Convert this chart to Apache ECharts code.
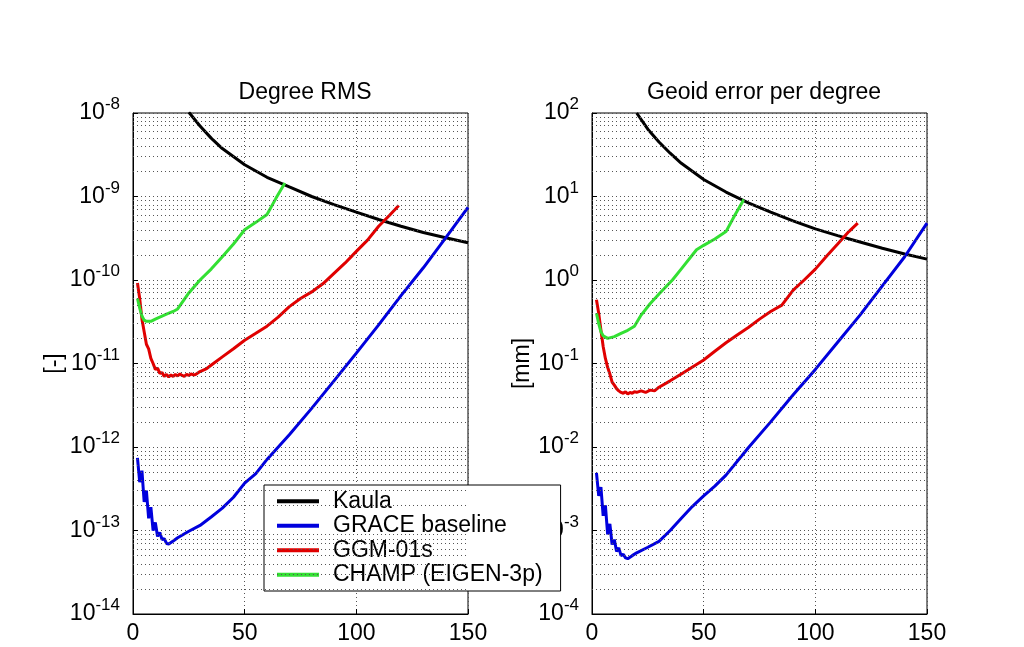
<!DOCTYPE html>
<html>
<head>
<meta charset="utf-8">
<script src="https://cdn.jsdelivr.net/npm/echarts@6/dist/echarts.min.js"></script>
<style>
  html, body { margin: 0; padding: 0; background: #fff; }
  #chart { width: 1024px; height: 647px; }
</style>
</head>
<body>
<div id="chart"></div>
<script>
// ---------- data ----------
const seriesNames = ['Kaula', 'GRACE baseline', 'GGM-01s', 'CHAMP (EIGEN-3p)'];
const xTicks = [0, 50, 100, 150];

// Left panel: Degree RMS [-]
const kaulaDegL = [25, 30, 35, 40, 50, 60, 70, 80, 90, 100, 110, 120, 130, 140, 150];
const kaulaValL = [1.02e-8, 7.0e-9, 5.0e-9, 3.75e-9, 2.4e-9, 1.7e-9, 1.3e-9, 1.0e-9, 8.0e-10, 6.5e-10, 5.3e-10, 4.4e-10, 3.7e-10, 3.2e-10, 2.8e-10];

const graceDegL = [2, 3, 4, 5, 6, 7, 8, 9, 10, 11, 12, 13, 14, 15, 16, 18, 20, 25, 30, 35, 40, 45, 50, 55, 60, 70, 80, 90, 100, 110, 120, 130, 140, 150];
const graceValL = [7.4e-13, 3.8e-13, 5.2e-13, 2.2e-13, 3.0e-13, 1.4e-13, 1.9e-13, 1.0e-13, 1.25e-13, 8.5e-14, 9.5e-14, 7.8e-14, 8.0e-14, 7.0e-14, 6.9e-14, 7.5e-14, 8.2e-14, 9.8e-14, 1.15e-13, 1.45e-13, 1.85e-13, 2.5e-13, 3.7e-13, 4.8e-13, 7.1e-13, 1.4e-12, 2.9e-12, 6.2e-12, 1.33e-11, 2.9e-11, 6.5e-11, 1.4e-10, 3.2e-10, 7.4e-10];

const ggmDegL = [2, 3, 4, 5, 6, 7, 8, 9, 10, 11, 12, 13, 14, 15, 16, 17, 18, 19, 20, 21, 22, 23, 24, 25, 26, 27, 28, 30, 33, 36, 40, 45, 50, 55, 60, 65, 70, 75, 80, 85, 90, 95, 100, 105, 110, 115, 119];
const ggmValL = [9.2e-11, 6.0e-11, 3.4e-11, 2.4e-11, 1.7e-11, 1.5e-11, 1.15e-11, 1.0e-11, 8.5e-12, 8.8e-12, 7.6e-12, 7.8e-12, 7.0e-12, 7.4e-12, 6.9e-12, 7.3e-12, 7.0e-12, 7.4e-12, 7.1e-12, 7.5e-12, 7.2e-12, 7.0e-12, 7.4e-12, 7.2e-12, 7.5e-12, 7.3e-12, 7.4e-12, 8.0e-12, 8.7e-12, 1.0e-11, 1.2e-11, 1.5e-11, 1.9e-11, 2.3e-11, 2.8e-11, 3.6e-11, 4.8e-11, 6.0e-11, 7.2e-11, 9.0e-11, 1.2e-10, 1.6e-10, 2.2e-10, 3.0e-10, 4.4e-10, 6.0e-10, 7.8e-10];

const champDegL = [2, 3, 4, 5, 6, 8, 10, 12, 15, 18, 20, 25, 30, 35, 40, 45, 50, 55, 60, 64, 68];
const champValL = [6.0e-11, 4.6e-11, 3.7e-11, 3.3e-11, 3.2e-11, 3.2e-11, 3.4e-11, 3.6e-11, 3.9e-11, 4.2e-11, 4.5e-11, 7.0e-11, 1.0e-10, 1.35e-10, 1.9e-10, 2.7e-10, 4.0e-10, 4.9e-10, 6.1e-10, 9.5e-10, 1.45e-9];

// Right panel: Geoid error per degree [mm]
const kaulaDegR = [20, 25, 30, 35, 40, 50, 60, 70, 80, 90, 100, 110, 120, 130, 140, 150];
const kaulaValR = [100, 64, 45, 33, 25, 16, 11.3, 8.4, 6.5, 5.1, 4.1, 3.4, 2.85, 2.4, 2.05, 1.78];

const graceDegR = [2, 3, 4, 5, 6, 7, 8, 9, 10, 11, 12, 13, 14, 15, 16, 18, 20, 25, 30, 35, 40, 45, 50, 55, 60, 70, 80, 90, 100, 110, 120, 130, 140, 150];
const graceValR = [4.9e-3, 2.6e-3, 3.3e-3, 1.5e-3, 2.0e-3, 9.0e-4, 1.2e-3, 6.8e-4, 7.8e-4, 5.6e-4, 6.2e-4, 5.0e-4, 5.2e-4, 4.7e-4, 4.6e-4, 5.0e-4, 5.4e-4, 6.3e-4, 7.4e-4, 1.0e-3, 1.4e-3, 1.95e-3, 2.6e-3, 3.4e-3, 4.6e-3, 9.8e-3, 0.020, 0.042, 0.085, 0.18, 0.38, 0.85, 1.9, 4.8];

const ggmDegR = [2, 3, 4, 5, 6, 7, 8, 9, 10, 11, 12, 13, 14, 15, 16, 17, 18, 19, 20, 22, 24, 26, 28, 30, 35, 40, 45, 50, 55, 60, 65, 70, 75, 80, 85, 90, 95, 100, 105, 110, 115, 119];
const ggmValR = [0.58, 0.40, 0.25, 0.16, 0.115, 0.09, 0.075, 0.06, 0.055, 0.05, 0.047, 0.045, 0.044, 0.046, 0.043, 0.045, 0.044, 0.046, 0.045, 0.047, 0.045, 0.048, 0.047, 0.052, 0.062, 0.075, 0.091, 0.11, 0.14, 0.177, 0.22, 0.27, 0.34, 0.42, 0.5, 0.75, 1.0, 1.35, 1.93, 2.7, 3.8, 4.8];

const champDegR = [2, 3, 4, 5, 7, 10, 13, 16, 19, 22, 26, 30, 36, 40, 46.8, 50, 55, 60, 64, 68];
const champValR = [0.40, 0.30, 0.24, 0.215, 0.20, 0.21, 0.23, 0.25, 0.28, 0.38, 0.52, 0.68, 1.0, 1.36, 2.3, 2.6, 3.1, 3.8, 6.0, 9.2];

// axis ranges (decade exponents)
const leftExp = [-14, -8];
const rightExp = [-4, 2];

// ---------- styling ----------
const FONT = '"Liberation Sans", Arial, Helvetica, sans-serif';
const colors = { 'Kaula': '#000000', 'GRACE baseline': '#0000dd', 'GGM-01s': '#e00000', 'CHAMP (EIGEN-3p)': '#33e033' };
const GRID_LINE = { type: [1, 3], color: '#555', width: 1 };

function pairs(xs, ys) { return xs.map((x, i) => [x, ys[i]]); }

// minor grid lines at log10(m * 10^k), m = 2..9, on a hidden linear exponent axis
function minorLines(minExp, maxExp) {
  const out = [];
  for (let k = minExp; k < maxExp; k++) {
    for (let m = 2; m <= 9; m++) out.push({ yAxis: k + Math.log10(m) });
  }
  return out;
}

function expLabel(v) {
  const e = Math.round(Math.log10(v));
  return '{b|10}{e|' + e + '}';
}

function makeX(gi) {
  return {
    gridIndex: gi, type: 'value', min: 0, max: 150, interval: 50,
    axisLine: { onZero: false, lineStyle: { color: '#000', width: 1 } },
    axisTick: { inside: true, length: 5, lineStyle: { color: '#000' } },
    axisLabel: { fontSize: 23, color: '#000', fontFamily: FONT, margin: 8 },
    splitLine: { show: true, lineStyle: GRID_LINE }
  };
}
function makeY(gi, exps, name, gap) {
  return {
    gridIndex: gi, type: 'log', logBase: 10,
    min: Math.pow(10, exps[0]), max: Math.pow(10, exps[1]), splitNumber: 6,
    name: name, nameLocation: 'middle', nameGap: gap,
    nameTextStyle: { fontSize: 23, color: '#000', fontFamily: FONT },
    axisLine: { show: true, onZero: false, lineStyle: { color: '#000', width: 1 } },
    axisTick: { inside: true, length: 5, lineStyle: { color: '#000' } },
    axisLabel: {
      margin: 13, formatter: expLabel,
      rich: {
        b: { fontSize: 23, lineHeight: 34, color: '#000', fontFamily: FONT },
        e: { fontSize: 17, lineHeight: 17, color: '#000', fontFamily: FONT, verticalAlign: 'top' }
      }
    },
    splitLine: { show: true, lineStyle: GRID_LINE }
  };
}
function hiddenExpAxis(gi, exps) {
  return { gridIndex: gi, type: 'value', min: exps[0], max: exps[1], show: false,
           splitLine: { show: false }, axisLine: { show: false, onZero: false } };
}

function line(name, gi, data) {
  return {
    name: name, type: 'line', xAxisIndex: gi, yAxisIndex: gi,
    data: data, symbol: 'none', smooth: false, clip: true, z: 3,
    lineStyle: { color: colors[name], width: 3 },
    itemStyle: { color: colors[name] }
  };
}
function minorGridSeries(gi, exps) {
  return {
    type: 'line', xAxisIndex: gi, yAxisIndex: gi + 2, data: [[0, exps[0]]],
    symbol: 'none', lineStyle: { opacity: 0 }, silent: true, z: 1,
    markLine: {
      silent: true, symbol: 'none', label: { show: false }, animation: false,
      lineStyle: GRID_LINE, emphasis: { disabled: true },
      data: minorLines(exps[0], exps[1])
    }
  };
}

const chart = echarts.init(document.getElementById('chart'), null, { renderer: 'canvas' });
chart.setOption({
  backgroundColor: '#ffffff',
  animation: false,
  title: [
    { text: 'Degree RMS', left: 300, top: 76, textAlign: 'center',
      textStyle: { fontSize: 23, fontWeight: 'normal', color: '#000', fontFamily: FONT } },
    { text: 'Geoid error per degree', left: 759, top: 76, textAlign: 'center',
      textStyle: { fontSize: 23, fontWeight: 'normal', color: '#000', fontFamily: FONT } }
  ],
  legend: {
    data: seriesNames, orient: 'vertical', left: 264, top: 485,
    padding: [4, 18, 4, 13], itemGap: 0, itemWidth: 42, itemHeight: 4, icon: 'rect',
    borderColor: '#000', borderWidth: 1, backgroundColor: '#fff', selectedMode: false,
    textStyle: { fontSize: 23, lineHeight: 24.5, color: '#000', fontFamily: FONT, padding: [0, 0, 0, 9] }
  },
  grid: [
    { left: 133, top: 113, width: 335, height: 501, show: true, borderColor: '#000', borderWidth: 1 },
    { left: 592, top: 113, width: 335, height: 501, show: true, borderColor: '#000', borderWidth: 1 }
  ],
  xAxis: [makeX(0), makeX(1)],
  yAxis: [makeY(0, leftExp, '[-]', 55), makeY(1, rightExp, '[mm]', 52),
          hiddenExpAxis(0, leftExp), hiddenExpAxis(1, rightExp)],
  series: [
    minorGridSeries(0, leftExp),
    minorGridSeries(1, rightExp),
    line('Kaula', 0, pairs(kaulaDegL, kaulaValL)),
    line('GRACE baseline', 0, pairs(graceDegL, graceValL)),
    line('GGM-01s', 0, pairs(ggmDegL, ggmValL)),
    line('CHAMP (EIGEN-3p)', 0, pairs(champDegL, champValL)),
    line('Kaula', 1, pairs(kaulaDegR, kaulaValR)),
    line('GRACE baseline', 1, pairs(graceDegR, graceValR)),
    line('GGM-01s', 1, pairs(ggmDegR, ggmValR)),
    line('CHAMP (EIGEN-3p)', 1, pairs(champDegR, champValR))
  ]
});
</script>
</body>
</html>
